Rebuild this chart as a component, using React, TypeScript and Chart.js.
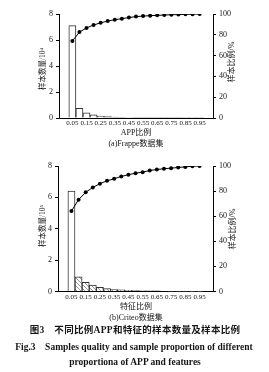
import React, { useEffect, useRef } from "react";
import { Chart, registerables } from "chart.js";

Chart.register(...registerables);

// ---- data ----
const ratios = [0.05, 0.1, 0.15, 0.2, 0.25, 0.3, 0.35, 0.4, 0.45, 0.5, 0.55, 0.6, 0.65, 0.7, 0.75, 0.8, 0.85, 0.9, 0.95];
const xTickValues = [0.05, 0.15, 0.25, 0.35, 0.45, 0.55, 0.65, 0.75, 0.85, 0.95];
const countTicks = [0, 2, 4, 6, 8];
const percentTicks = [0, 20, 40, 60, 80, 100];

const frappeCounts = [7.1, 0.75, 0.4, 0.24, 0.15, 0.1, 0.07, 0.05, 0.04, 0.03, 0.025, 0.02, 0.016, 0.013, 0.01, 0.008, 0.006, 0.005, 0.004];
const frappePercent = [74, 82.6, 86.6, 89.4, 91.5, 93.2, 94.5, 95.5, 96.6, 97.5, 98.0, 98.4, 98.7, 99.0, 99.3, 99.4, 99.7, 99.8, 100];

const criteoCounts = [6.4, 0.94, 0.59, 0.41, 0.27, 0.18, 0.13, 0.1, 0.08, 0.06, 0.05, 0.04, 0.035, 0.03, 0.025, 0.02, 0.015, 0.012, 0.01];
const criteoPercent = [64.1, 73.2, 79, 82.9, 85.9, 88.2, 89.8, 91.7, 93, 94.3, 95.1, 96.4, 97.2, 97.8, 98.3, 98.8, 99.3, 99.8, 100];

const FONT = "'Liberation Serif', 'Times New Roman', 'Noto Sans CJK SC', serif";
const INK = "#151515";

function makeHatch(): CanvasPattern | string {
  const c = document.createElement("canvas");
  c.width = 4;
  c.height = 4;
  const g = c.getContext("2d");
  if (!g) return "#ccc";
  g.fillStyle = "#fff";
  g.fillRect(0, 0, 4, 4);
  g.strokeStyle = "#9a9a9a";
  g.lineWidth = 1;
  g.beginPath();
  g.moveTo(0, 0);
  g.lineTo(4, 4);
  g.moveTo(-1, 3);
  g.lineTo(1, 5);
  g.moveTo(3, -1);
  g.lineTo(5, 1);
  g.stroke();
  return g.createPattern(c, "repeat") || "#ccc";
}

type Cfg = {
  counts: number[];
  percent: number[];
  hatched: boolean;
  padTop: number;
  leftW: number;
  rightW: number;
  xH: number;
};

function buildChart(canvas: HTMLCanvasElement, cfg: Cfg) {
  const hatch = cfg.hatched ? makeHatch() : "#fff";
  const barColors = cfg.counts.map((_, i) => (i === 0 ? "#fff" : hatch));
  const tickFont = { family: FONT, size: 8 };
  return new Chart(canvas, {
    type: "bar",
    data: {
      datasets: [
        {
          type: "line",
          data: ratios.map((r, i) => ({ x: r, y: cfg.percent[i] })),
          yAxisID: "y1",
          borderColor: "#000",
          borderWidth: 1,
          pointRadius: 2,
          pointBackgroundColor: "#000",
          pointBorderWidth: 0,
          tension: 0,
          order: 0,
        } as any,
        {
          type: "bar",
          data: ratios.map((r, i) => ({ x: r, y: cfg.counts[i] })),
          yAxisID: "y",
          backgroundColor: barColors as any,
          borderColor: "#333",
          borderWidth: 1,
          barPercentage: 1,
          categoryPercentage: 1,
          order: 1,
        } as any,
      ],
    },
    options: {
      responsive: false,
      animation: false,
      layout: { autoPadding: false, padding: { top: cfg.padTop, left: 0, right: 0, bottom: 0 } },
      plugins: { legend: { display: false }, tooltip: { enabled: false }, title: { display: false } },
      scales: {
        x: {
          type: "linear",
          min: 0.01,
          max: 0.99,
          grid: { display: false, drawTicks: false, tickLength: 0 },
          border: { display: true, color: "#000", width: 1 },
          afterBuildTicks: (s: any) => {
            s.ticks = xTickValues.map((v) => ({ value: v }));
          },
          afterFit: (s: any) => {
            s.height = cfg.xH;
            s.paddingLeft = 0;
            s.paddingRight = 0;
          },
          ticks: {
            autoSkip: false,
            maxRotation: 0,
            minRotation: 0,
            padding: 1,
            color: INK,
            font: { family: FONT, size: 7 },
            callback: (v: any) => Number(v).toFixed(2),
          },
        },
        y: {
          type: "linear",
          position: "left",
          min: 0,
          max: 8,
          grid: { drawOnChartArea: false, drawTicks: true, tickLength: 3, color: "#000" },
          border: { display: true, color: "#000", width: 1 },
          afterBuildTicks: (s: any) => {
            s.ticks = countTicks.map((v) => ({ value: v }));
          },
          afterFit: (s: any) => {
            s.width = cfg.leftW;
          },
          ticks: { padding: 3, color: INK, font: tickFont },
        },
        y1: {
          type: "linear",
          position: "right",
          min: 0,
          max: 100,
          grid: { drawOnChartArea: false, drawTicks: true, tickLength: 3, color: "#000" },
          border: { display: true, color: "#000", width: 1 },
          afterBuildTicks: (s: any) => {
            s.ticks = percentTicks.map((v) => ({ value: v }));
          },
          afterFit: (s: any) => {
            s.width = cfg.rightW;
          },
          ticks: { padding: 3, color: INK, font: tickFont },
        },
      },
    },
  } as any);
}

function ChartBox(props: { cfg: Cfg; top: number; height: number }) {
  const ref = useRef<HTMLCanvasElement | null>(null);
  useEffect(() => {
    if (!ref.current) return;
    const ch = buildChart(ref.current, props.cfg);
    return () => ch.destroy();
  }, []);
  return (
    <canvas
      ref={ref}
      width={269}
      height={props.height}
      style={{ position: "absolute", left: 0, top: props.top, width: 269, height: props.height }}
    />
  );
}

function Centered(props: { x: number; y: number; size: number; bold?: boolean; rotate?: boolean; children: React.ReactNode; spacing?: number }) {
  return (
    <div
      style={{
        position: "absolute",
        left: props.x,
        top: props.y,
        transform: `translate(-50%, -50%)${props.rotate ? " rotate(-90deg)" : ""}`,
        fontFamily: FONT,
        fontSize: props.size,
        fontWeight: props.bold ? "bold" : "normal",
        letterSpacing: props.spacing ?? 0,
        color: INK,
        whiteSpace: "pre",
        lineHeight: 1,
      }}
    >
      {props.children}
    </div>
  );
}

export default function App() {
  const cfg1: Cfg = { counts: frappeCounts, percent: frappePercent, hatched: false, padTop: 14, leftW: 59, rightW: 56, xH: 12 };
  const cfg2: Cfg = { counts: criteoCounts, percent: criteoPercent, hatched: true, padTop: 16, leftW: 58, rightW: 56, xH: 10.5 };
  return (
    <div style={{ position: "absolute", left: 0, top: 0, width: 269, height: 372, background: "#fff", overflow: "hidden" }}>
      <ChartBox cfg={cfg1} top={0} height={130} />
      <ChartBox cfg={cfg2} top={150} height={152} />

      <Centered x={43} y={69} size={7.5} rotate>
        样本数量/10⁴
      </Centered>
      <Centered x={232} y={62} size={8} rotate>
        样本比例/%
      </Centered>
      <Centered x={136} y={133} size={8}>
        APP比例
      </Centered>
      <Centered x={136} y={144} size={8}>
        (a)Frappe数据集
      </Centered>

      <Centered x={43} y={226} size={7.5} rotate>
        样本数量/10⁵
      </Centered>
      <Centered x={233} y={229} size={8} rotate>
        样本比例/%
      </Centered>
      <Centered x={136} y={307} size={8}>
        特征比例
      </Centered>
      <Centered x={136} y={318} size={8}>
        (b)Criteo数据集
      </Centered>

      <Centered x={135} y={331} size={9.5} bold spacing={0.3}>
        {"图3　不同比例APP和特征的样本数量及样本比例"}
      </Centered>
      <Centered x={134} y={348} size={9.5} bold>
        {"Fig.3    Samples quality and sample proportion of different"}
      </Centered>
      <Centered x={135} y={363} size={9.5} bold>
        proportiona of APP and features
      </Centered>
    </div>
  );
}
